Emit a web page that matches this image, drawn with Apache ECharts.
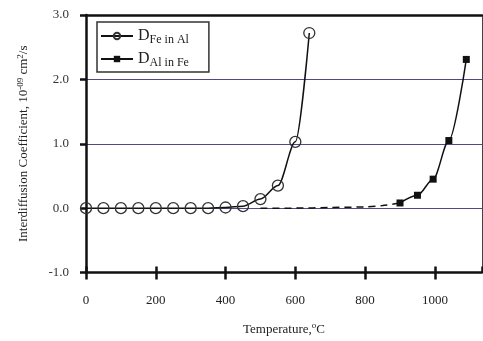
<!DOCTYPE html>
<html>
<head>
<meta charset="utf-8">
<script src="https://cdn.jsdelivr.net/npm/echarts@6/dist/echarts.min.js"></script>
<style>
  html, body { margin: 0; padding: 0; background: #fff; }
  #chart { width: 483px; height: 341px; }
</style>
</head>
<body>
<div id="chart"></div>
<script>
// D Fe in Al (open circles)
const feTemp = [0, 50, 100, 150, 200, 250, 300, 350, 400, 450, 500, 550, 600, 640];
const feD = [0, 0, 0, 0, 0, 0, 0, 0, 0.01, 0.03, 0.14, 0.35, 1.03, 2.72];

// D Al in Fe (filled squares), plus dashed low-temperature tail
const alTemp = [900, 950, 995, 1040, 1090];
const alD = [0.08, 0.2, 0.45, 1.05, 2.31];
const tailTemp = [500, 600, 700, 800, 850, 900];
const tailD = [0, 0, 0.01, 0.02, 0.04, 0.08];

const yTicks = [-1, 0, 1, 2, 3];
const xTicks = [0, 200, 400, 600, 800, 1000];

const font = 'Liberation Serif';
const ink = '#222';

const pairs = (xs, ys) => xs.map((x, i) => [x, ys[i]]);

const chart = echarts.init(document.getElementById('chart'));

const xBase = {
  type: 'value',
  min: 0,
  max: 1135,
  interval: 200,
  splitLine: { show: false }
};

chart.setOption({
  animation: false,
  textStyle: { fontFamily: font, color: ink },
  grid: { left: 86, top: 15, right: 1, bottom: 68 },
  legend: {
    data: ['fe', 'al'],
    orient: 'vertical',
    left: 97,
    top: 22,
    padding: [4, 20, 3, 3],
    itemGap: 3,
    itemWidth: 32,
    itemHeight: 8,
    backgroundColor: '#fff',
    borderColor: '#333',
    borderWidth: 1.5,
    borderRadius: 0,
    formatter: n => n === 'fe' ? '{d|D}{s|Fe in Al}' : '{d|D}{s|Al in Fe}',
    textStyle: {
      fontFamily: font,
      color: ink,
      rich: {
        d: { fontSize: 16, fontFamily: font, color: ink, lineHeight: 20 },
        s: { fontSize: 12, fontFamily: font, color: ink, padding: [8, 0, 0, 0], lineHeight: 20 }
      }
    }
  },
  xAxis: [
    Object.assign({}, xBase, {
      position: 'bottom',
      name: '{t|Temperature,}{u|o}{t|C}',
      nameLocation: 'middle',
      nameGap: 49,
      nameTextStyle: {
        rich: {
          t: { fontSize: 13, fontFamily: font, color: ink },
          u: { fontSize: 9, fontFamily: font, color: ink, padding: [0, 0, 7, 0] }
        }
      },
      axisLine: { onZero: false, lineStyle: { color: '#111', width: 2.5 } },
      axisTick: { length: 7, lineStyle: { color: '#111', width: 2.5 } },
      axisLabel: {
        margin: 22,
        fontSize: 13,
        color: ink,
        fontFamily: font,
        showMaxLabel: false,
        formatter: v => xTicks.includes(v) ? String(v) : ''
      }
    }),
    Object.assign({}, xBase, {
      position: 'bottom',
      axisLine: { show: false, onZero: false },
      axisTick: { inside: true, length: 6, lineStyle: { color: '#111', width: 2.5 } },
      axisLabel: { show: false }
    }),
    Object.assign({}, xBase, {
      position: 'top',
      axisLine: { onZero: false, lineStyle: { color: '#111', width: 2.5 } },
      axisTick: { show: false },
      axisLabel: { show: false }
    })
  ],
  yAxis: [
    {
      type: 'value',
      min: -1,
      max: 3,
      interval: 1,
      name: '{t|Interdiffusion Coefficient, 10}{u|-09}{t| cm}{u|2}{t|/s}',
      nameLocation: 'middle',
      nameGap: 54,
      nameTextStyle: {
        rich: {
          t: { fontSize: 13, fontFamily: font, color: ink },
          u: { fontSize: 9, fontFamily: font, color: ink, padding: [0, 0, 7, 0] }
        }
      },
      axisLine: { onZero: false, lineStyle: { color: '#111', width: 2.5 } },
      axisTick: { length: 6, lineStyle: { color: '#111', width: 2.5 } },
      axisLabel: {
        margin: 17,
        fontSize: 13,
        color: '#333',
        fontFamily: font,
        formatter: v => yTicks.includes(v) ? v.toFixed(1) : ''
      },
      splitLine: { show: true, lineStyle: { color: '#4e4a8a', width: 1.2 } }
    },
    {
      type: 'value',
      min: -1,
      max: 3,
      interval: 1,
      position: 'right',
      axisLine: { show: true, onZero: false, lineStyle: { color: '#444', width: 1 } },
      axisTick: { show: false },
      axisLabel: { show: false },
      splitLine: { show: false }
    }
  ],
  series: [
    {
      name: 'tail',
      type: 'line',
      data: pairs(tailTemp, tailD),
      smooth: 0.3,
      showSymbol: false,
      symbol: 'none',
      lineStyle: { color: '#111', width: 1.5, type: [7, 5] },
      z: 2
    },
    {
      name: 'fe',
      type: 'line',
      data: pairs(feTemp, feD),
      smooth: 0.3,
      smoothMonotone: 'x',
      symbol: 'circle',
      symbolSize: 11,
      color: '#111',
      itemStyle: { color: 'rgba(255,255,255,0)', borderColor: '#333', borderWidth: 1.3 },
      lineStyle: { color: '#111', width: 1.5 },
      z: 3
    },
    {
      name: 'al',
      type: 'line',
      data: pairs(alTemp, alD),
      smooth: 0.3,
      smoothMonotone: 'x',
      symbol: 'rect',
      symbolSize: 7,
      color: '#111',
      itemStyle: { color: '#111' },
      lineStyle: { color: '#111', width: 1.5 },
      z: 3
    }
  ]
});
</script>
</body>
</html>
